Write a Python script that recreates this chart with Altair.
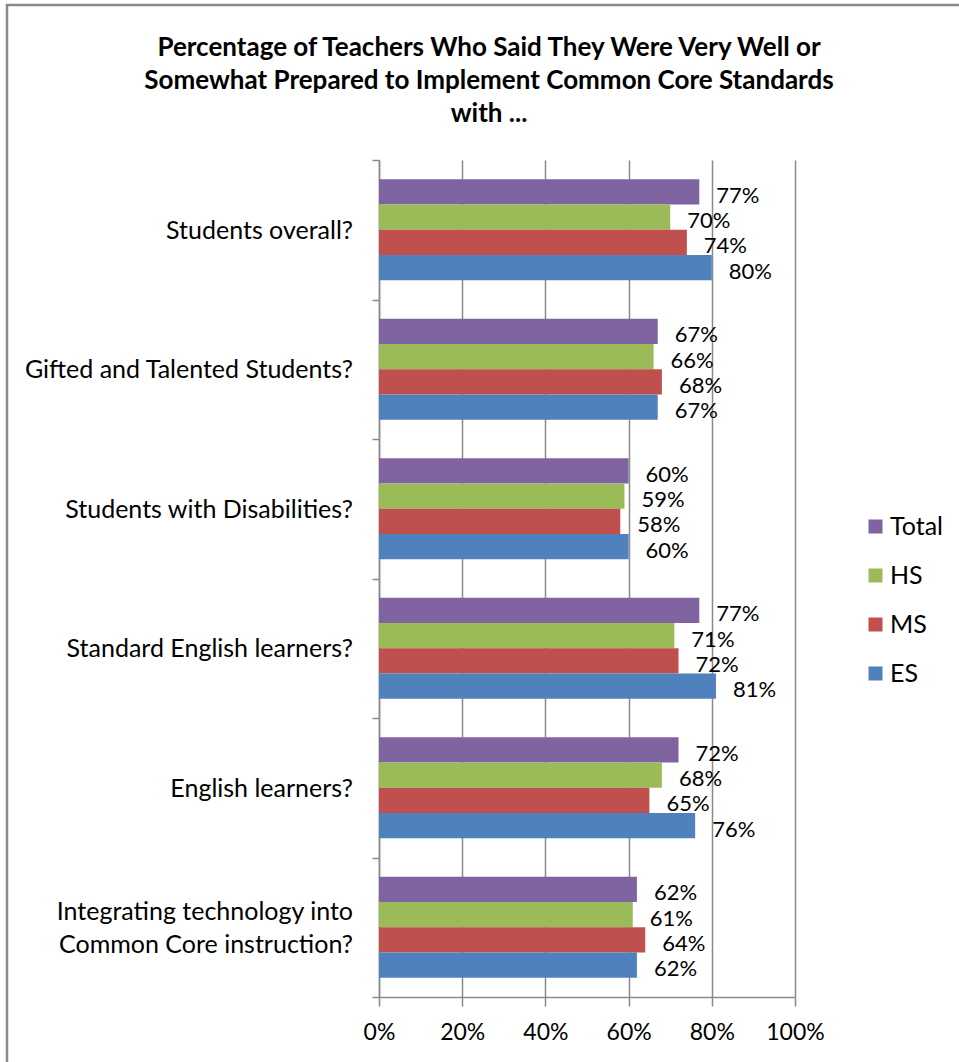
import altair as alt
import pandas as pd

categories = [
    "Students overall?",
    "Gifted and Talented Students?",
    "Students with Disabilities?",
    "Standard English learners?",
    "English learners?",
    "Integrating technology into|Common Core instruction?",
]
series = ["Total", "HS", "MS", "ES"]
colors = ["#8064A2", "#9BBB59", "#C0504D", "#4F81BD"]
total = [77, 67, 60, 77, 72, 62]
hs = [70, 66, 59, 71, 68, 61]
ms = [74, 68, 58, 72, 65, 64]
es = [80, 67, 60, 81, 76, 62]
x_ticks = [0, 0.2, 0.4, 0.6, 0.8, 1.0]

rows = []
for name, vals in zip(series, [total, hs, ms, es]):
    for c, v in zip(categories, vals):
        rows.append({"category": c, "series": name, "value": v / 100})
df = pd.DataFrame(rows)
cat_df = pd.DataFrame({"category": categories})

FONT = "Lato"
GRAY = "#8a8a8a"

y_enc = alt.Y(
    "category:N",
    sort=categories,
    scale=alt.Scale(paddingInner=0, paddingOuter=0),
    axis=alt.Axis(
        title=None,
        labels=False,
        tickBand="extent",
        tickSize=7,
        tickColor=GRAY,
        tickWidth=1.5,
        domainColor=GRAY,
        domainWidth=1.5,
    ),
)

base = alt.Chart(df).encode(
    y=y_enc,
    yOffset=alt.YOffset(
        "series:N",
        sort=series,
        scale=alt.Scale(paddingInner=0, paddingOuter=0.76),
    ),
    x=alt.X(
        "value:Q",
        scale=alt.Scale(domain=[0, 1]),
        axis=alt.Axis(
            title=None,
            format=".0%",
            values=x_ticks,
            grid=True,
            gridColor=GRAY,
            gridWidth=1.5,
            domainColor=GRAY,
            domainWidth=1.5,
            tickColor=GRAY,
            tickWidth=1.5,
            tickSize=9,
            labelFontSize=23,
            labelFont=FONT,
            labelColor="black",
            labelPadding=15,
            labelFlush=False,
        ),
    ),
)

bars = base.mark_bar().encode(
    color=alt.Color(
        "series:N",
        sort=series,
        scale=alt.Scale(domain=series, range=colors),
        legend=alt.Legend(
            title=None,
            orient="none",
            legendX=484,
            legendY=354,
            symbolType="square",
            symbolSize=196,
            symbolStrokeWidth=0,
            labelFontSize=25,
            labelFont=FONT,
            labelColor="black",
            rowPadding=23,
            labelOffset=2,
        ),
    )
)

labels = base.mark_text(
    align="left", baseline="middle", dx=17, dy=4, fontSize=22, font=FONT, color="black"
).encode(text=alt.Text("value:Q", format=".0%"))

cat_single = (
    alt.Chart(cat_df)
    .transform_filter("indexof(datum.category, '|') < 0")
    .mark_text(align="right", baseline="middle", fontSize=25, font=FONT, color="black", dy=1)
    .encode(y=alt.Y("category:N", sort=categories), x=alt.value(-26), text="category:N")
)
cat_multi = (
    alt.Chart(cat_df)
    .transform_filter("indexof(datum.category, '|') >= 0")
    .mark_text(
        align="right", baseline="middle", fontSize=25, font=FONT, color="black",
        lineBreak="|", lineHeight=33, dy=-15,
    )
    .encode(y=alt.Y("category:N", sort=categories), x=alt.value(-26), text="category:N")
)

frame = alt.Chart(alt.Data(values=[{}])).mark_rect(
    fill=None, stroke=GRAY, strokeWidth=2.5
).encode(
    x=alt.value(-372), x2=alt.value(700), y=alt.value(-155), y2=alt.value(1000)
)

chart = (
    alt.layer(frame, bars, labels, cat_single, cat_multi)
    .properties(
        width=416,
        height=837,
        padding={"left": 379, "top": 160, "right": 164, "bottom": 65},
        autosize=alt.AutoSizeParams(type="none"),
        title=alt.TitleParams(
            text=[
                "Percentage of Teachers Who Said They Were Very Well or",
                "Somewhat Prepared to Implement Common Core Standards",
                "with ...",
            ],
            anchor="middle",
            dx=-98,
            dy=123,
            fontSize=26,
            font=FONT,
            fontWeight="bold",
            color="black",
            lineHeight=33,
            offset=0,
        ),
        background="white",
    )
    .configure_view(stroke=None)
)

chart.save("out.html", embed_options={"renderer": "svg", "actions": False})
